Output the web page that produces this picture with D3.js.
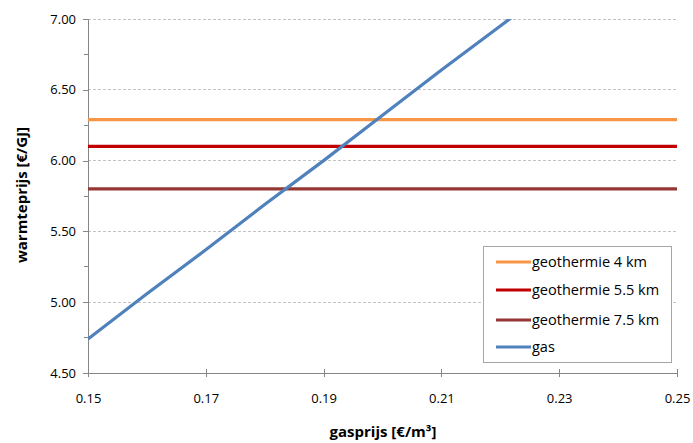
<!DOCTYPE html>
<html><head><meta charset="utf-8">
<script src="https://cdn.jsdelivr.net/npm/d3@7"></script>
<style>body{margin:0;background:#fff}svg{display:block}</style>
</head><body>
<svg id="c" width="693" height="443"></svg>
<script>
const xTicks = [0.15, 0.17, 0.19, 0.21, 0.23, 0.25];
const yTicks = [4.5, 5.0, 5.5, 6.0, 6.5, 7.0];
const yMinorTicks = [4.75, 5.25, 5.75, 6.25, 6.75];
const seriesNames = ["geothermie 4 km", "geothermie 5.5 km", "geothermie 7.5 km", "gas"];
const seriesColors = ["#F79646", "#C00000", "#953735", "#4F81BD"];
const gasprijs = [0.15, 0.16, 0.17, 0.18, 0.19, 0.20, 0.21, 0.22, 0.23, 0.24, 0.25];
const geo4 = [6.29, 6.29, 6.29, 6.29, 6.29, 6.29, 6.29, 6.29, 6.29, 6.29, 6.29];
const geo55 = [6.10, 6.10, 6.10, 6.10, 6.10, 6.10, 6.10, 6.10, 6.10, 6.10, 6.10];
const geo75 = [5.80, 5.80, 5.80, 5.80, 5.80, 5.80, 5.80, 5.80, 5.80, 5.80, 5.80];
const gas = [4.74, 5.06, 5.37, 5.69, 6.00, 6.32, 6.64, 6.95, 7.27, 7.58, 7.90];
const seriesValues = [geo4, geo55, geo75, gas];

const svg = d3.select("#c");
const font = "'Open Sans', 'Liberation Sans', Arial, sans-serif";
const L = 88, R = 677, T = 19, B = 373;
const x = d3.scaleLinear().domain([0.15, 0.25]).range([L, R]);
const y = d3.scaleLinear().domain([4.5, 7.0]).range([B, T]);

// gridlines
svg.append("g").selectAll("line").data(yTicks.filter(v => v > 4.5)).join("line")
  .attr("x1", L).attr("x2", R).attr("y1", d => y(d)).attr("y2", d => y(d))
  .attr("stroke", "#c4c4c4").attr("stroke-width", 1).attr("stroke-dasharray", "3,2")
  .attr("shape-rendering", "crispEdges");

// y axis
const yAxis = d3.axisLeft(y).tickValues(yTicks).tickFormat(d3.format(".2f")).tickSize(5).tickPadding(7);
const gy = svg.append("g").attr("transform", `translate(${L},0)`).call(yAxis);
gy.select(".domain").attr("stroke", "#868686").attr("shape-rendering", "crispEdges");
gy.selectAll(".tick line").attr("stroke", "#868686").attr("shape-rendering", "crispEdges");
gy.selectAll("text").attr("font-family", font).attr("font-size", 13).attr("fill", "#000");
svg.append("g").selectAll("line").data(yMinorTicks).join("line")
  .attr("x1", L - 4).attr("x2", L).attr("y1", d => y(d)).attr("y2", d => y(d))
  .attr("stroke", "#868686").attr("shape-rendering", "crispEdges");

// x axis
const xAxis = d3.axisBottom(x).tickValues(xTicks).tickFormat(d3.format(".2f")).tickSize(4).tickPadding(17);
const gx = svg.append("g").attr("transform", `translate(0,${B})`).call(xAxis);
gx.select(".domain").attr("stroke", "#868686").attr("d", `M${L},0H${R}`).attr("shape-rendering", "crispEdges");
gx.selectAll(".tick line").attr("stroke", "#868686").attr("y1", -4).attr("shape-rendering", "crispEdges");
gx.selectAll("text").attr("font-family", font).attr("font-size", 13).attr("fill", "#000");

// clip
svg.append("clipPath").attr("id", "clip").append("rect")
  .attr("x", L).attr("y", T).attr("width", R - L + 3).attr("height", B - T);

const line = d3.line().x((d, i) => x(gasprijs[i])).y(d => y(d));
svg.append("g").attr("clip-path", "url(#clip)").selectAll("path").data(seriesValues).join("path")
  .attr("d", d => line(d)).attr("fill", "none")
  .attr("stroke", (d, i) => seriesColors[i]).attr("stroke-width", 3.2);

// axis titles
svg.append("text").attr("x", 383).attr("y", 437).attr("text-anchor", "middle")
  .attr("font-family", font).attr("font-weight", "bold").attr("font-size", 15).text("gasprijs [€/m³]");
svg.append("text").attr("transform", `translate(27,195) rotate(-90)`).attr("text-anchor", "middle")
  .attr("font-family", font).attr("font-weight", "bold").attr("font-size", 15).text("warmteprijs [€/GJ]");

// legend
const lg = svg.append("g");
lg.append("rect").attr("x", 483.5).attr("y", 246.5).attr("width", 188).attr("height", 116)
  .attr("fill", "#fff").attr("stroke", "#a6a6a6");
const rowsY = [262, 290, 320, 347];
seriesNames.forEach((n, i) => {
  lg.append("line").attr("x1", 496).attr("x2", 531).attr("y1", rowsY[i]).attr("y2", rowsY[i])
    .attr("stroke", seriesColors[i]).attr("stroke-width", 3.2);
  lg.append("text").attr("x", 532).attr("y", rowsY[i] + 5).attr("font-family", font)
    .attr("font-size", 14.5).text(n);
});
</script>
</body></html>
